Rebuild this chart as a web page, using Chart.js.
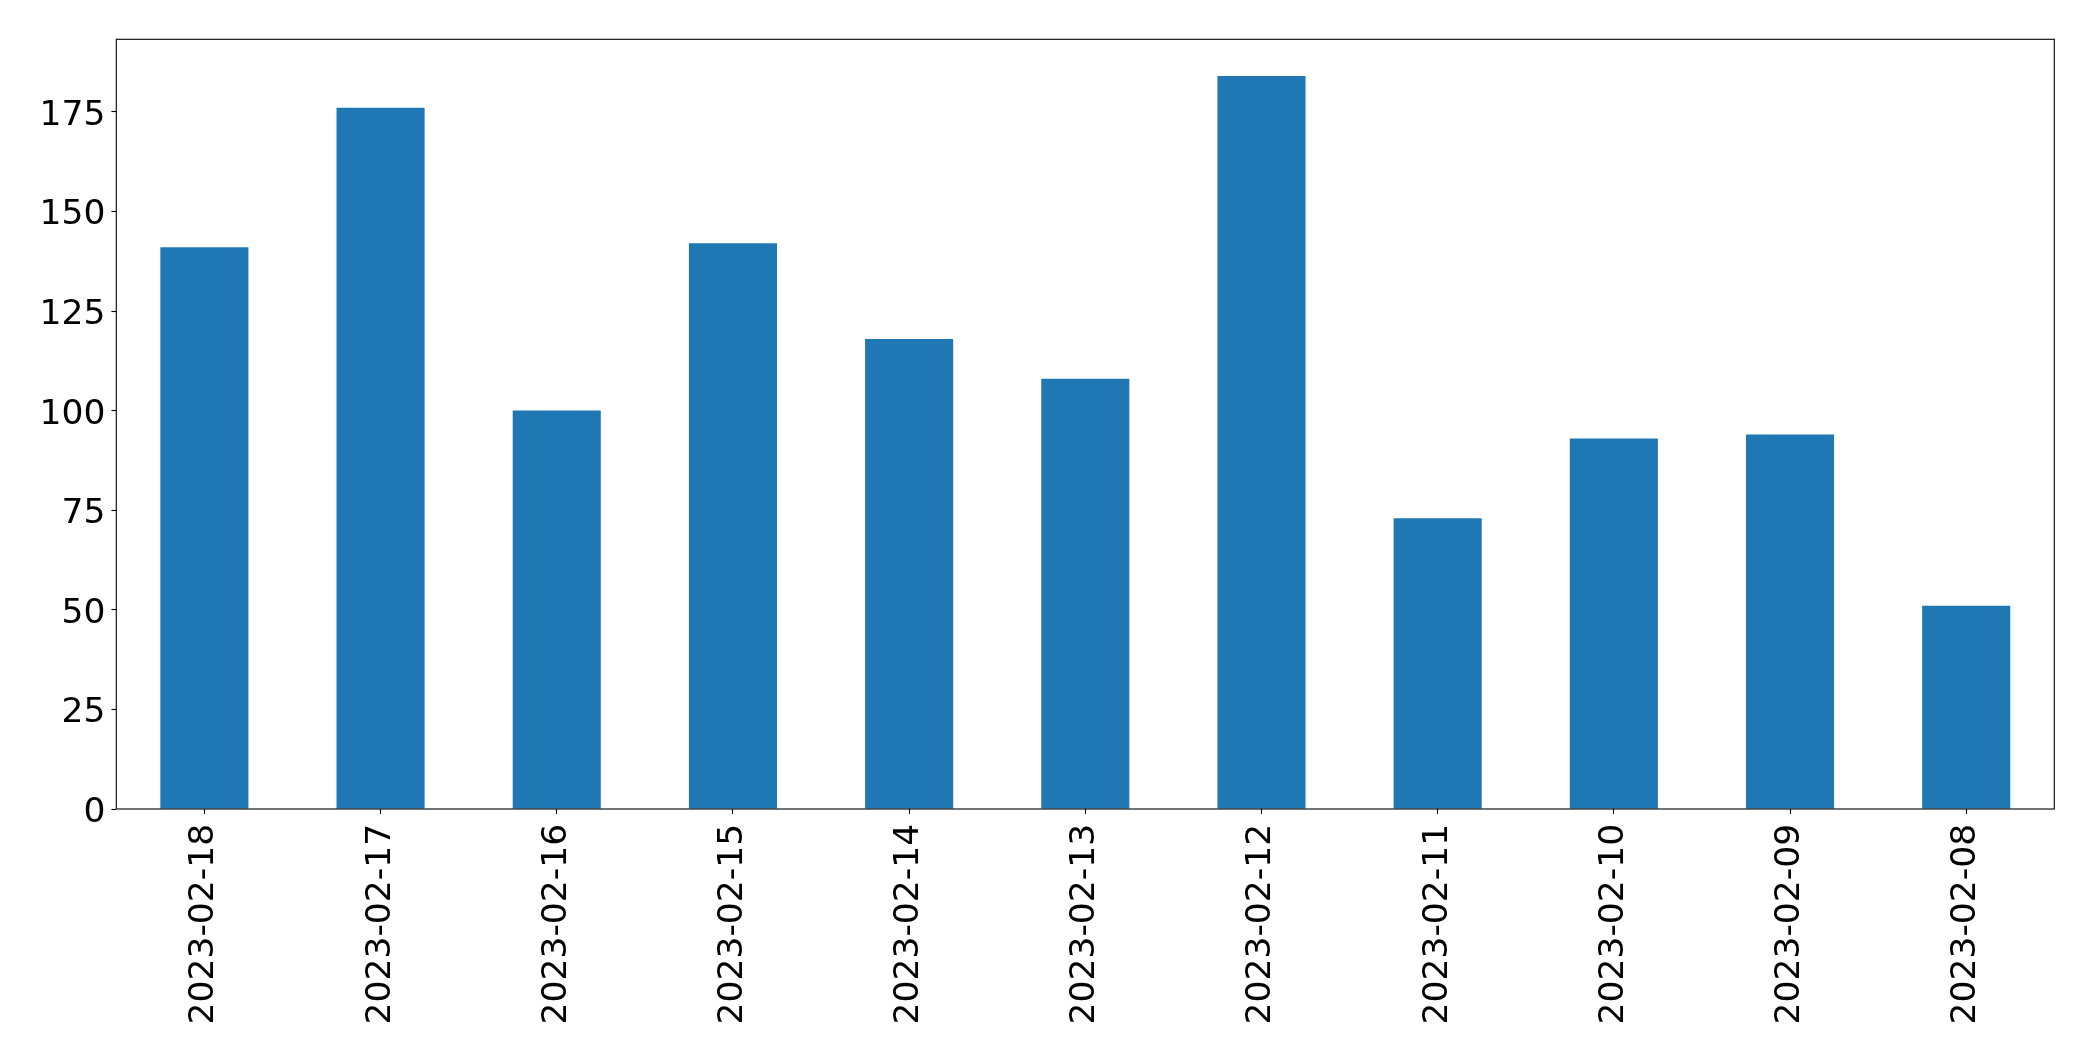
<!DOCTYPE html>
<html lang="en">

<head>
    <meta charset="UTF-8">
    <title>Chart</title>
    <script src="https://cdn.jsdelivr.net/npm/chart.js"></script>
    <style>
        html, body { margin: 0; padding: 0; background: white; }
        .grafico { width: 2093px; height: 1061px; }
    </style>
</head>

<body>
    <div class="grafico">
        <canvas id="barras"></canvas>
    </div>
</body>

</html>
<script>
    var datas = ['2023-02-18', '2023-02-17', '2023-02-16', '2023-02-15', '2023-02-14', '2023-02-13',
        '2023-02-12', '2023-02-11', '2023-02-10', '2023-02-09', '2023-02-08'];
    var valores = [141, 176, 100, 142, 118, 108, 184, 73, 93, 94, 51];
    var ticksY = [0, 25, 50, 75, 100, 125, 150, 175];

    // moldura dos quatro lados, igual matplotlib
    const moldura = {
        id: 'moldura',
        afterDraw(chart) {
            const a = chart.chartArea;
            const ctx = chart.ctx;
            ctx.save();
            ctx.strokeStyle = 'black';
            ctx.lineWidth = 1.1;
            ctx.strokeRect(a.left, a.top, a.right - a.left, a.bottom - a.top);
            ctx.restore();
        }
    };

    const fonte = { family: 'DejaVu Sans', size: 34.5 };

    const grafico = {
        type: 'bar',
        data: {
            labels: datas,
            datasets: [
                {
                    data: valores,
                    backgroundColor: '#1f77b4',
                    barPercentage: 0.5,
                    categoryPercentage: 1.0
                }
            ]
        },
        options: {
            responsive: true,
            maintainAspectRatio: false,
            animation: false,
            layout: { padding: { left: 0, right: 38.7, top: 39.3, bottom: 0 } },
            plugins: { legend: { display: false }, tooltip: { enabled: false } },
            scales: {
                x: {
                    offset: true,
                    border: { display: false },
                    grid: { display: true, drawOnChartArea: false, drawTicks: true, tickLength: 4.9, tickColor: 'black', tickWidth: 1.1, offset: false },
                    ticks: { color: 'black', font: fonte, minRotation: 90, maxRotation: 90, padding: 10, autoSkip: false },
                    afterFit: function (s) { s.height = 252; }
                },
                y: {
                    min: 0,
                    max: Math.max.apply(null, valores) * 1.05,
                    border: { display: false },
                    grid: { display: true, drawOnChartArea: false, drawTicks: true, tickLength: 4.9, tickColor: 'black', tickWidth: 1.1 },
                    afterBuildTicks: function (s) { s.ticks = ticksY.map(function (v) { return { value: v }; }); },
                    ticks: { color: 'black', font: fonte, padding: 6, labelOffset: 4 },
                    afterFit: function (s) { s.width = 116.3; }
                }
            }
        },
        plugins: [moldura]
    };

    var barras = new Chart(document.getElementById("barras"), grafico);
</script>
